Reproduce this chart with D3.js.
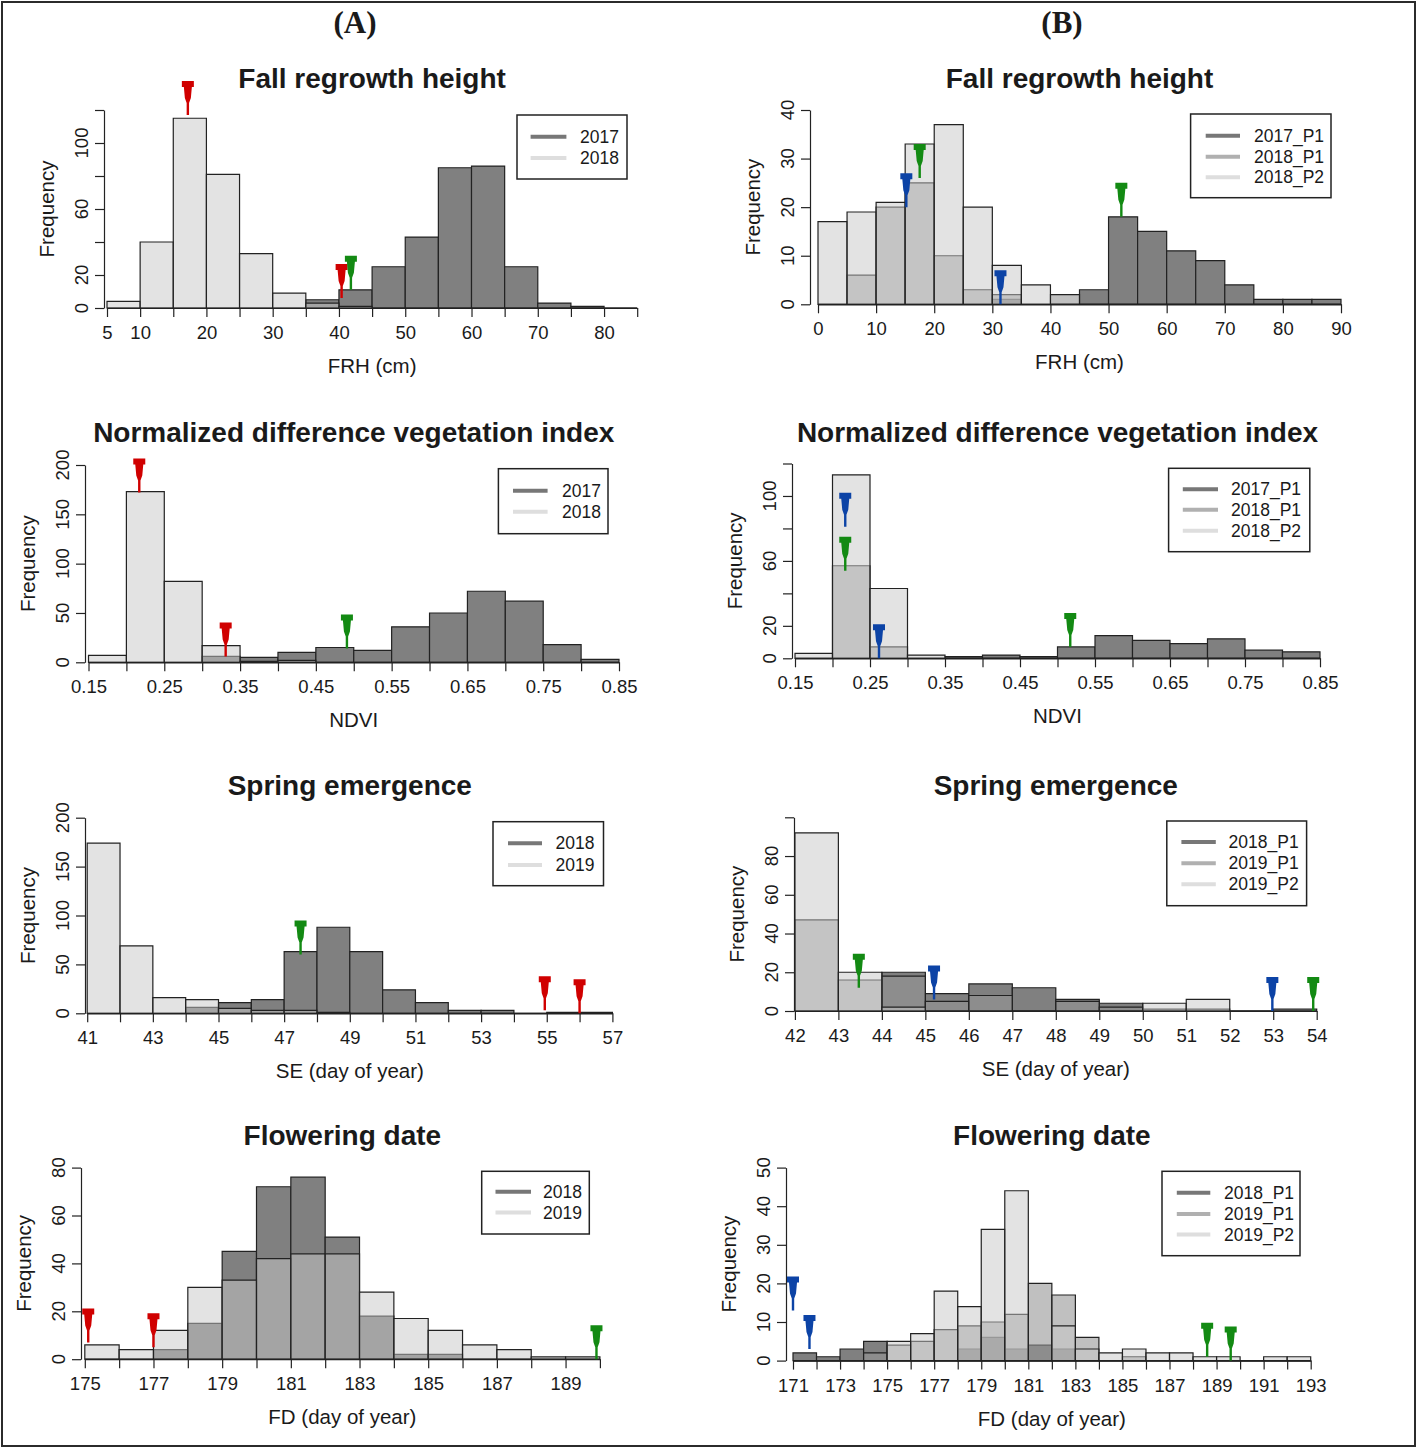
<!DOCTYPE html>
<html>
<head>
<meta charset="utf-8">
<script src="https://cdn.jsdelivr.net/npm/d3@7"></script>
<style>
  body { margin: 0; background: #fff; }
  text { font-family: "Liberation Sans", Arial, sans-serif; fill: #1a1a1a; }
</style>
</head>
<body>
<svg id="fig" width="1418" height="1449"></svg>
<script>
// ---- Fall regrowth height (A)
const frhA_breaks = [5, 10, 15, 20, 25, 30, 35, 40, 45, 50, 55, 60, 65, 70, 75, 80, 85];
const frhA_2017 = [0, 0, 0, 0, 0, 0, 5, 11, 25, 43, 85, 86, 25, 3, 1, 0];
const frhA_2018 = [4, 40, 115, 81, 33, 9, 3, 1, 0, 0, 0, 0, 0, 0, 0, 0];
const frhA_xticks = [5, 10, 15, 20, 25, 30, 35, 40, 45, 50, 55, 60, 65, 70, 75, 80, 85];
const frhA_xlabels = [5, 10, 20, 30, 40, 50, 60, 70, 80];
const frhA_yticks = [0, 20, 40, 60, 80, 100, 120];
const frhA_ylabels = [0, 20, 60, 100];
const frhA_marks = [[17.2, 117, "red"], [40.4, 6, "red"], [41.8, 11, "green"]];

// ---- Fall regrowth height (B)
const frhB_breaks = [0, 5, 10, 15, 20, 25, 30, 35, 40, 45, 50, 55, 60, 65, 70, 75, 80, 85, 90];
const frhB_2017P1 = [0, 0, 0, 0, 0, 0, 1, 0, 0, 3, 18, 15, 11, 9, 4, 1, 1, 1];
const frhB_2018P1 = [0, 6, 20, 25, 10, 3, 2, 0, 2, 0, 0, 0, 0, 0, 0, 0, 0, 0];
const frhB_2018P2 = [17, 19, 21, 33, 37, 20, 8, 4, 0, 0, 0, 0, 0, 0, 0, 0, 0, 0];
const frhB_xticks = [0, 10, 20, 30, 40, 50, 60, 70, 80, 90];
const frhB_xlabels = [0, 10, 20, 30, 40, 50, 60, 70, 80, 90];
const frhB_yticks = [0, 10, 20, 30, 40];
const frhB_ylabels = [0, 10, 20, 30, 40];
const frhB_marks = [[15.2, 20, "blue"], [17.5, 26, "green"], [31.4, 0, "blue"], [52.2, 18, "green"]];

// ---- NDVI (A)
const ndviA_breaks = [0.15, 0.2, 0.25, 0.3, 0.35, 0.4, 0.45, 0.5, 0.55, 0.6, 0.65, 0.7, 0.75, 0.8, 0.85];
const ndviA_2017 = [0, 0, 0, 6, 5, 10, 15, 12, 36, 50, 72, 62, 18, 3];
const ndviA_2018 = [7, 173, 82, 17, 1, 2, 0, 0, 0, 0, 0, 0, 0, 0];
const ndviA_xticks = [0.15, 0.2, 0.25, 0.3, 0.35, 0.4, 0.45, 0.5, 0.55, 0.6, 0.65, 0.7, 0.75, 0.8, 0.85];
const ndviA_xlabels = [0.15, 0.25, 0.35, 0.45, 0.55, 0.65, 0.75, 0.85];
const ndviA_yticks = [0, 50, 100, 150, 200];
const ndviA_ylabels = [0, 50, 100, 150, 200];
const ndviA_marks = [[0.217, 172, "red"], [0.331, 6, "red"], [0.491, 14, "green"]];

// ---- NDVI (B)
const ndviB_breaks = [0.15, 0.2, 0.25, 0.3, 0.35, 0.4, 0.45, 0.5, 0.55, 0.6, 0.65, 0.7, 0.75, 0.8, 0.85];
const ndviB_2017P1 = [0, 0, 0, 0, 1, 2, 1, 7, 14, 11, 9, 12, 5, 4];
const ndviB_2018P1 = [0, 57, 7, 0, 0, 0, 0, 0, 0, 0, 0, 0, 0, 0];
const ndviB_2018P2 = [3, 113, 43, 2, 0, 0, 0, 0, 0, 0, 0, 0, 0, 0];
const ndviB_xticks = [0.15, 0.2, 0.25, 0.3, 0.35, 0.4, 0.45, 0.5, 0.55, 0.6, 0.65, 0.7, 0.75, 0.8, 0.85];
const ndviB_xlabels = [0.15, 0.25, 0.35, 0.45, 0.55, 0.65, 0.75, 0.85];
const ndviB_yticks = [0, 20, 40, 60, 80, 100, 120];
const ndviB_ylabels = [0, 20, 60, 100];
const ndviB_marks = [[0.217, 81, "blue"], [0.217, 54, "green"], [0.262, 0, "blue"], [0.517, 7, "green"]];

// ---- Spring emergence (A)
const seA_breaks = [41, 42, 43, 44, 45, 46, 47, 48, 49, 50, 51, 52, 53, 54, 55, 56, 57];
const seA_2018 = [0, 0, 0, 6, 11, 14, 63, 88, 63, 24, 11, 3, 3, 0, 1, 1];
const seA_2019 = [174, 69, 16, 14, 5, 3, 3, 1, 0, 0, 0, 0, 0, 0, 0, 0];
const seA_xticks = [41, 42, 43, 44, 45, 46, 47, 48, 49, 50, 51, 52, 53, 54, 55, 56, 57];
const seA_xlabels = [41, 43, 45, 47, 49, 51, 53, 55, 57];
const seA_yticks = [0, 50, 100, 150, 200];
const seA_ylabels = [0, 50, 100, 150, 200];
const seA_marks = [[47.5, 60, "green"], [54.94, 3, "red"], [56.0, 0, "red"]];

// ---- Spring emergence (B)
const seB_breaks = [42, 43, 44, 45, 46, 47, 48, 49, 50, 51, 52, 53, 54];
const seB_2018P1 = [0, 0, 20, 9, 14, 12, 6, 4, 0, 0, 0, 0];
const seB_2019P1 = [47, 16, 18, 5, 8, 0, 5, 2, 1, 1, 0, 1];
const seB_2019P2 = [92, 20, 2, 0, 0, 0, 0, 0, 4, 6, 0, 0];
const seB_xticks = [42, 43, 44, 45, 46, 47, 48, 49, 50, 51, 52, 53, 54];
const seB_xlabels = [42, 43, 44, 45, 46, 47, 48, 49, 50, 51, 52, 53, 54];
const seB_yticks = [0, 20, 40, 60, 80, 100];
const seB_ylabels = [0, 20, 40, 60, 80];
const seB_marks = [[43.47, 12, "green"], [45.2, 6, "blue"], [52.98, 0, "blue"], [53.92, 0, "green"]];

// ---- Flowering date (A)
const fdA_breaks = [175, 176, 177, 178, 179, 180, 181, 182, 183, 184, 185, 186, 187, 188, 189, 190];
const fdA_2018 = [0, 0, 4, 15, 45, 72, 76, 51, 18, 2, 2, 0, 0, 0, 0];
const fdA_2019 = [6, 4, 12, 30, 33, 42, 44, 44, 28, 17, 12, 6, 4, 1, 1];
const fdA_xticks = [175, 176, 177, 178, 179, 180, 181, 182, 183, 184, 185, 186, 187, 188, 189, 190];
const fdA_xlabels = [175, 177, 179, 181, 183, 185, 187, 189];
const fdA_yticks = [0, 20, 40, 60, 80];
const fdA_ylabels = [0, 20, 40, 60, 80];
const fdA_marks = [[175.1, 7, "red"], [177.0, 5, "red"], [189.9, 0, "green"]];

// ---- Flowering date (B)
const fdB_breaks = [171, 172, 173, 174, 175, 176, 177, 178, 179, 180, 181, 182, 183, 184, 185, 186, 187, 188, 189, 190, 191, 192, 193];
const fdB_2018P1 = [2, 1, 3, 5, 0, 0, 0, 3, 6, 3, 4, 3, 0, 0, 0, 0, 0, 0, 0, 0, 0, 0];
const fdB_2019P1 = [0, 0, 0, 2, 4, 5, 8, 9, 10, 12, 20, 17, 6, 0, 1, 0, 0, 0, 0, 0, 0, 0];
const fdB_2019P2 = [0, 0, 0, 0, 5, 7, 18, 14, 34, 44, 0, 9, 3, 2, 3, 2, 2, 1, 1, 0, 1, 1];
const fdB_xticks = [171, 172, 173, 174, 175, 176, 177, 178, 179, 180, 181, 182, 183, 184, 185, 186, 187, 188, 189, 190, 191, 192, 193];
const fdB_xlabels = [171, 173, 175, 177, 179, 181, 183, 185, 187, 189, 191, 193];
const fdB_yticks = [0, 10, 20, 30, 40, 50];
const fdB_ylabels = [0, 10, 20, 30, 40, 50];
const fdB_marks = [[171.0, 13, "blue"], [171.7, 3, "blue"], [188.6, 1, "green"], [189.6, 0, "green"]];

// fill styles: dark drawn first, lighter ones blended on top (like R's alpha hist)
const tones = {
  dark:   { fill: "#808080", op: 1,   legend: "#777777" },
  medium: { fill: "#969696", op: 0.6, legend: "#b0b0b0" },
  light:  { fill: "#c7c7c7", op: 0.5, legend: "#dedede" }
};
const markColor = { red: "#d00000", green: "#138a13", blue: "#0c43a6" };

const panels = [
  { title: "Fall regrowth height", xlab: "FRH (cm)", breaks: frhA_breaks,
    series: [["2017", frhA_2017, "dark"], ["2018", frhA_2018, "light"]],
    xticks: frhA_xticks, xlabels: frhA_xlabels, yticks: frhA_yticks, ylabels: frhA_ylabels, marks: frhA_marks,
    xr: [107, 637.2], yr: [308, 110], yAxisX: 104, titleY: 78,
    leg: { box: [517, 115, 627, 179], ly: [136.7, 158], lx: [530.6, 566.4], tx: 580 } },
  { title: "Fall regrowth height", xlab: "FRH (cm)", breaks: frhB_breaks,
    series: [["2017_P1", frhB_2017P1, "dark"], ["2018_P1", frhB_2018P1, "medium"], ["2018_P2", frhB_2018P2, "light"]],
    xticks: frhB_xticks, xlabels: frhB_xlabels, yticks: frhB_yticks, ylabels: frhB_ylabels, marks: frhB_marks,
    xr: [818, 1341], yr: [304.3, 110], yAxisX: 810, titleY: 78,
    leg: { box: [1190.6, 114, 1331, 197.7], ly: [135.7, 156.7, 177.3], lx: [1205.7, 1240], tx: 1254 } },
  { title: "Normalized difference vegetation index", xlab: "NDVI", breaks: ndviA_breaks,
    series: [["2017", ndviA_2017, "dark"], ["2018", ndviA_2018, "light"]],
    xticks: ndviA_xticks, xlabels: ndviA_xlabels, yticks: ndviA_yticks, ylabels: ndviA_ylabels, marks: ndviA_marks,
    xr: [88.5, 619], yr: [662.3, 465], yAxisX: 85, titleY: 432,
    leg: { box: [498.4, 468.7, 608, 533.7], ly: [490.7, 511.7], lx: [513, 547.6], tx: 562 } },
  { title: "Normalized difference vegetation index", xlab: "NDVI", breaks: ndviB_breaks,
    series: [["2017_P1", ndviB_2017P1, "dark"], ["2018_P1", ndviB_2018P1, "medium"], ["2018_P2", ndviB_2018P2, "light"]],
    xticks: ndviB_xticks, xlabels: ndviB_xlabels, yticks: ndviB_yticks, ylabels: ndviB_ylabels, marks: ndviB_marks,
    xr: [795, 1320], yr: [658.3, 463.5], yAxisX: 792, titleY: 432,
    leg: { box: [1168.6, 468.3, 1309.8, 551.7], ly: [489.3, 509.7, 530.7], lx: [1182.8, 1218], tx: 1231 } },
  { title: "Spring emergence", xlab: "SE (day of year)", breaks: seA_breaks,
    series: [["2018", seA_2018, "dark"], ["2019", seA_2019, "light"]],
    xticks: seA_xticks, xlabels: seA_xlabels, yticks: seA_yticks, ylabels: seA_ylabels, marks: seA_marks,
    xr: [87.2, 612.4], yr: [1013.3, 817.7], yAxisX: 85, titleY: 785,
    leg: { box: [493, 821.7, 603.5, 885.7], ly: [843.3, 865], lx: [508, 542], tx: 555.6 } },
  { title: "Spring emergence", xlab: "SE (day of year)", breaks: seB_breaks,
    series: [["2018_P1", seB_2018P1, "dark"], ["2019_P1", seB_2019P1, "medium"], ["2019_P2", seB_2019P2, "light"]],
    xticks: seB_xticks, xlabels: seB_xlabels, yticks: seB_yticks, ylabels: seB_ylabels, marks: seB_marks,
    xr: [794.9, 1316.7], yr: [1011, 817.3], yAxisX: 794, titleY: 785,
    leg: { box: [1166.8, 821, 1306.6, 905.7], ly: [842, 863.3, 884.3], lx: [1181.4, 1215.8], tx: 1228.6 } },
  { title: "Flowering date", xlab: "FD (day of year)", breaks: fdA_breaks,
    series: [["2018", fdA_2018, "dark"], ["2019", fdA_2019, "light"]],
    xticks: fdA_xticks, xlabels: fdA_xlabels, yticks: fdA_yticks, ylabels: fdA_ylabels, marks: fdA_marks,
    xr: [84.8, 599.9], yr: [1359.2, 1167.6], yAxisX: 81, titleY: 1135,
    leg: { box: [481.7, 1171.3, 589.3, 1234], ly: [1191.7, 1212.5], lx: [495.5, 531], tx: 543 } },
  { title: "Flowering date", xlab: "FD (day of year)", breaks: fdB_breaks,
    series: [["2018_P1", fdB_2018P1, "dark"], ["2019_P1", fdB_2019P1, "medium"], ["2019_P2", fdB_2019P2, "light"]],
    xticks: fdB_xticks, xlabels: fdB_xlabels, yticks: fdB_yticks, ylabels: fdB_ylabels, marks: fdB_marks,
    xr: [793, 1310.7], yr: [1360.6, 1167.6], yAxisX: 786, titleY: 1135,
    leg: { box: [1162, 1171.3, 1300, 1255.7], ly: [1192.7, 1213.9, 1234.6], lx: [1176.8, 1210.3], tx: 1224 } }
];

const svg = d3.select("#fig");

// outer frame and column headers
svg.append("rect").attr("x", 2).attr("y", 2).attr("width", 1413).attr("height", 1444)
  .attr("fill", "none").attr("stroke", "#2b2b2b").attr("stroke-width", 2);
[["(A)", 355], ["(B)", 1062]].forEach(([t, cx]) => {
  svg.append("text").attr("x", cx).attr("y", 33).attr("text-anchor", "middle")
    .style("font-family", "'Liberation Serif', 'Times New Roman', serif")
    .style("font-weight", "bold").style("font-size", "31px").text(t);
});

// pin-shaped marker, tip at (0,0)
const pin = "M-6,-34H6V-28H4L3,-17L1.2,-12V0H-1.2V-12L-3,-17L-4,-28H-6Z";

function drawPanel(p) {
  const x = d3.scaleLinear().domain([p.breaks[0], p.breaks[p.breaks.length - 1]]).range(p.xr);
  const y = d3.scaleLinear().domain([0, p.yticks[p.yticks.length - 1]]).range(p.yr);
  const g = svg.append("g");
  const y0 = y(0);

  // bars, darker series first
  p.series.forEach(([name, counts, tone]) => {
    g.append("g").selectAll("path").data(counts).join("path")
      .attr("d", (d, i) => {
        const a = x(p.breaks[i]), b = x(p.breaks[i + 1]);
        return `M${a},${y0}V${y(d)}H${b}V${y0}Z`;
      })
      .attr("fill", tones[tone].fill)
      .attr("fill-opacity", tones[tone].op)
      .attr("stroke", "#222")
      .attr("stroke-width", 1.2);
  });

  // x axis
  const xa = g.append("g").attr("transform", `translate(0,${y0})`)
    .call(d3.axisBottom(x).tickValues(p.xticks).tickSize(9).tickSizeOuter(0).tickPadding(9)
      .tickFormat(d => p.xlabels.includes(d) ? String(d) : ""));
  xa.select(".domain").attr("stroke", "#222").attr("stroke-width", 1.2);
  xa.selectAll(".tick line").attr("stroke", "#222").attr("stroke-width", 1.2);
  xa.selectAll("text").style("font-size", "18.5px").attr("fill", "#1a1a1a")
    .style("font-family", "'Liberation Sans', Arial, sans-serif");

  // y axis with rotated labels (R style)
  const ya = g.append("g").attr("transform", `translate(${p.yAxisX},0)`)
    .call(d3.axisLeft(y).tickValues(p.yticks).tickSize(9).tickSizeOuter(0).tickFormat(""));
  ya.select(".domain").attr("stroke", "#222").attr("stroke-width", 1.2);
  ya.selectAll(".tick line").attr("stroke", "#222").attr("stroke-width", 1.2);
  g.append("g").selectAll("text").data(p.ylabels).join("text")
    .attr("transform", d => `translate(${p.yAxisX - 16},${y(d)}) rotate(-90)`)
    .attr("text-anchor", "middle").style("font-size", "18.5px").text(d => d);

  // axis titles and main title
  const cx = (p.xr[0] + p.xr[1]) / 2;
  g.append("text").attr("x", cx).attr("y", y0 + 65).attr("text-anchor", "middle")
    .style("font-size", "20.5px").text(p.xlab);
  const cy = (y(0) + y(p.yticks[p.yticks.length - 1])) / 2;
  g.append("text").attr("transform", `translate(${p.yAxisX - 50},${cy}) rotate(-90)`)
    .attr("text-anchor", "middle").style("font-size", "20.5px").text("Frequency");
  g.append("text").attr("x", cx).attr("y", p.titleY + 10).attr("text-anchor", "middle")
    .style("font-size", "28px").style("font-weight", "bold").text(p.title);

  // markers
  g.append("g").selectAll("path").data(p.marks).join("path")
    .attr("transform", d => `translate(${x(d[0])},${y(d[1])})`)
    .attr("d", pin).attr("fill", d => markColor[d[2]]);

  // legend
  const L = p.leg;
  g.append("rect").attr("x", L.box[0]).attr("y", L.box[1])
    .attr("width", L.box[2] - L.box[0]).attr("height", L.box[3] - L.box[1])
    .attr("fill", "#fff").attr("stroke", "#222").attr("stroke-width", 1.5);
  p.series.forEach(([name, counts, tone], i) => {
    g.append("line").attr("x1", L.lx[0]).attr("x2", L.lx[1]).attr("y1", L.ly[i]).attr("y2", L.ly[i])
      .attr("stroke", tones[tone].legend).attr("stroke-width", 4);
    g.append("text").attr("x", L.tx).attr("y", L.ly[i] + 6).style("font-size", "17.5px").text(name);
  });
}

panels.forEach(drawPanel);
</script>
</body>
</html>
